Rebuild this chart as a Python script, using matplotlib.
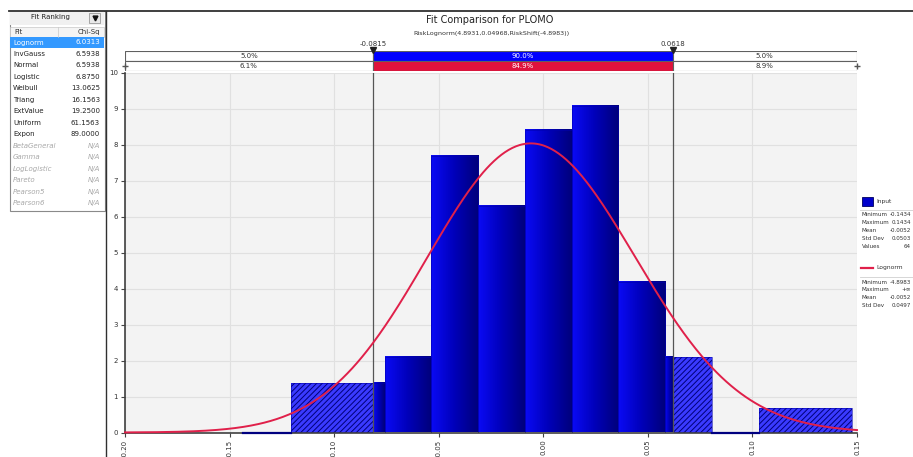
import numpy as np
import matplotlib.pyplot as plt
from matplotlib.patches import Rectangle
from matplotlib.colors import LinearSegmentedColormap

W, H = 913, 457

# left ranking table
fit_names = ["Lognorm", "InvGauss", "Normal", "Logistic", "Weibull", "Triang",
             "ExtValue", "Uniform", "Expon", "BetaGeneral", "Gamma",
             "LogLogistic", "Pareto", "Pearson5", "Pearson6"]
chi_sq = [6.0313, 6.5938, 6.5938, 6.8750, 13.0625, 16.1563, 19.2500,
          61.1563, 89.0000, None, None, None, None, None, None]

# histogram of the input (bin edges + density heights)
bin_edges = [-0.1434, -0.1204, -0.0759, -0.0538, -0.0313, -0.0088, 0.0137,
             0.0357, 0.0582, 0.0807, 0.1032, 0.1477]
bin_heights = [0.0, 1.38, 2.10, 7.68, 6.29, 8.40, 9.07, 4.18, 2.10, 0.0, 0.68]

# delimiters and percentages
lo_delim, hi_delim = -0.0815, 0.0618
input_pcts = [5.0, 90.0, 5.0]
fit_pcts = [6.1, 84.9, 8.9]

# fitted distribution: RiskLognorm(4.8931,0.04968,RiskShift(-4.8983))
logn_mean, logn_sd, logn_shift = 4.8931, 0.04968, -4.8983

input_stats = [("Minimum", "-0.1434"), ("Maximum", "0.1434"), ("Mean", "-0.0052"),
               ("Std Dev", "0.0503"), ("Values", "64")]
fit_stats = [("Minimum", "-4.8983"), ("Maximum", "+\u221e"), ("Mean", "-0.0052"),
             ("Std Dev", "0.0497")]

xmin, xmax = -0.20, 0.15
xticks = [-0.20, -0.15, -0.10, -0.05, 0.00, 0.05, 0.10, 0.15]

plt.rcParams['font.family'] = 'DejaVu Sans'
plt.rcParams['hatch.linewidth'] = 0.7
fig = plt.figure(figsize=(W / 100, H / 100), dpi=100)
fig.patch.set_facecolor('white')

# ---- main histogram axes
ax = fig.add_axes([125 / W, (H - 432.5) / H, 732 / W, 360 / H])
ax.set_facecolor('#f3f3f3')
ax.set_xlim(xmin, xmax)
ax.set_ylim(0, 10)
ax.set_xticks(xticks)
ax.set_xticklabels(['%.2f' % t for t in xticks], rotation=90, fontsize=5, color='#333333')
ax.set_yticks(range(11))
ax.set_yticklabels([str(i) for i in range(11)], fontsize=5, color='#333333')
ax.tick_params(length=3, width=0.8, color='#444444', pad=2)
ax.grid(True, color='#e0e0e0', lw=0.8)
ax.set_axisbelow(True)
for s in ['top', 'right']:
    ax.spines[s].set_visible(False)
for s in ['left', 'bottom']:
    ax.spines[s].set_color('#404040')
    ax.spines[s].set_linewidth(1.2)

lefts = np.array(bin_edges[:-1])
rights = np.array(bin_edges[1:])
heights = np.array(bin_heights)

blues = LinearSegmentedColormap.from_list('bl', ['#0a0af5', '#0000b8', '#00007a'])
grad = np.linspace(0, 1, 64).reshape(1, -1)

for l, r, h in zip(lefts, rights, heights):
    if h <= 0:
        ax.plot([l, r], [0, 0], color='#000080', lw=1.6, zorder=3, clip_on=False)
        continue
    # hatched parts outside the delimiters
    for a, b in [(l, min(r, lo_delim)), (max(l, hi_delim), r)]:
        if b > a:
            ax.bar(a, h, width=b - a, align='edge', color='#3a3aff',
                   edgecolor='#000078', hatch='//////', lw=0, zorder=2)
    # solid gradient part inside the delimiters
    a, b = max(l, lo_delim), min(r, hi_delim)
    if b > a:
        ax.imshow(grad, extent=[a, b, 0, h], cmap=blues, aspect='auto', zorder=2)
    ax.bar(l, h, width=r - l, align='edge', fill=False, edgecolor='#0000b0', lw=0.4, zorder=2.5)

ax.set_xlim(xmin, xmax)
ax.set_ylim(0, 10)

# fitted lognormal curve
sig2 = np.log(1 + (logn_sd / logn_mean) ** 2)
mu = np.log(logn_mean) - sig2 / 2
xs = np.linspace(xmin, xmax, 600)
z = xs - logn_shift
pdf = np.exp(-(np.log(z) - mu) ** 2 / (2 * sig2)) / (z * np.sqrt(2 * np.pi * sig2))
ax.plot(xs, pdf, color='#e0204a', lw=1.4, zorder=4, clip_on=False)

for d in [lo_delim, hi_delim]:
    ax.axvline(d, color='#555555', lw=0.9, zorder=3)

# ---- delimiter bars
dax = fig.add_axes([125 / W, (H - 70.5) / H, 732 / W, 19.5 / H])
dax.set_xlim(xmin, xmax)
dax.set_ylim(0, 2)
dax.axis('off')
segs = [(xmin, lo_delim), (lo_delim, hi_delim), (hi_delim, xmax)]
for row, pcts, mid_col in [(1, input_pcts, '#0000ff'), (0, fit_pcts, '#e0123c')]:
    for (a, b), p, c in zip(segs, pcts, ['white', mid_col, 'white']):
        dax.barh(row, b - a, left=a, height=1, align='edge', color=c,
                 edgecolor='#606060', lw=0.8)
        dax.text((a + b) / 2, row + 0.5, '%.1f%%' % p, ha='center', va='center',
                 fontsize=5, color='white' if c != 'white' else '#333333')
for d in [lo_delim, hi_delim]:
    dax.plot(d, 2.12, marker='v', color='#222222', ms=4, clip_on=False)
    dax.text(d, 2.75, '%.4f' % d, ha='center', va='center', fontsize=5, color='#333333')
dax.plot([xmin, xmax], [0.5, 0.5], ls='none', marker='+', ms=5, color='#555555', clip_on=False)

# ---- overlay for panel frames, titles, table and legend
ov = fig.add_axes([0, 0, 1, 1])
ov.set_xlim(0, W)
ov.set_ylim(H, 0)
ov.axis('off')

ov.plot([9, W], [10.5, 10.5], color='#303030', lw=1.3)
ov.plot([105.5, 105.5], [10.5, H], color='#303030', lw=1.0)

ov.text(490, 20, 'Fit Comparison for PLOMO', ha='center', va='center', fontsize=7, color='#222222')
ov.text(491, 33, 'RiskLognorm(4.8931,0.04968,RiskShift(-4.8983))', ha='center',
        va='center', fontsize=4.6, color='#333333')

# ranking table
ov.add_patch(Rectangle((9.5, 10.5), 95, 200, fill=False, edgecolor='#8a8a8a', lw=0.8))
ov.add_patch(Rectangle((10, 11), 94, 14, facecolor='#f0f0f0', edgecolor='none'))
ov.text(50, 17.5, 'Fit Ranking', ha='center', va='center', fontsize=5, color='#222222')
ov.add_patch(Rectangle((89, 12.5), 11, 10, facecolor='#e8e8e8', edgecolor='#999999', lw=0.6))
ov.plot(94.5, 17.5, marker='v', color='#111111', ms=3.5)
ov.add_patch(Rectangle((10, 26.5), 94, 10, facecolor='#f4f4f4', edgecolor='#c8c8c8', lw=0.5))
ov.text(14, 31.8, 'Fit', ha='left', va='center', fontsize=5, color='#333333')
ov.text(100, 31.8, 'Chi-Sq', ha='right', va='center', fontsize=5, color='#333333')
ov.plot([58, 58], [26.5, 36.5], color='#c8c8c8', lw=0.5)

row_y0, row_dy = 42.5, 11.47
for i, (name, val) in enumerate(zip(fit_names, chi_sq)):
    y = row_y0 + i * row_dy
    if i == 0:
        ov.add_patch(Rectangle((10, y - 5.3), 94, 10.6, facecolor='#3399ff', edgecolor='none'))
        col, style = 'white', 'normal'
    elif val is None:
        col, style = '#a8a8a8', 'italic'
    else:
        col, style = '#222222', 'normal'
    ov.text(13, y, name, ha='left', va='center', fontsize=5, color=col, style=style)
    ov.text(100, y, 'N/A' if val is None else '%.4f' % val, ha='right', va='center',
            fontsize=5, color=col, style=style)

# legend / statistics on the right
ov.add_patch(Rectangle((861.5, 196.5), 11, 9, facecolor='#0000cc', edgecolor='#000060', lw=0.6))
ov.text(876, 201, 'Input', ha='left', va='center', fontsize=4.3, color='#333333')
ov.plot([860, W], [209.5, 209.5], color='#d0d0d0', lw=0.6)
for i, (k, v) in enumerate(input_stats):
    y = 214.5 + i * 7.9
    ov.text(862, y, k, ha='left', va='center', fontsize=4.1, color='#333333')
    ov.text(911, y, v, ha='right', va='center', fontsize=4.1, color='#333333')

ov.plot([861, 873], [268, 268], color='#e0204a', lw=1.6)
ov.text(876, 268, 'Lognorm', ha='left', va='center', fontsize=4.3, color='#333333')
ov.plot([860, W], [276.5, 276.5], color='#d0d0d0', lw=0.6)
for i, (k, v) in enumerate(fit_stats):
    y = 282 + i * 7.7
    ov.text(862, y, k, ha='left', va='center', fontsize=4.1, color='#333333')
    ov.text(911, y, v, ha='right', va='center', fontsize=4.1, color='#333333')

fig.savefig('out.png', dpi=100)
